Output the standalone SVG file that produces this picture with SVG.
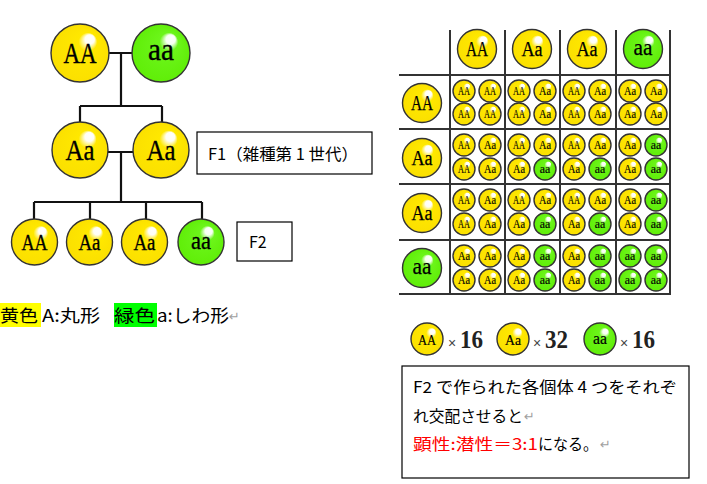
<svg xmlns="http://www.w3.org/2000/svg" width="707" height="484" viewBox="0 0 707 484">
<style>
.y{fill:url(#gy)}
.g{fill:url(#gg)}
circle{stroke:#333;stroke-width:1.4}
.lt{font-family:"Liberation Serif",serif;text-anchor:middle;fill:#000;stroke:#000;stroke-width:0.35}
.jp{font-family:"Noto Sans CJK JP","Liberation Sans",sans-serif;fill:#000}
.ret{font-family:"DejaVu Sans",sans-serif;fill:#a0a0a0;font-size:13px}
.ln{stroke:#111;stroke-width:2.2;fill:none}
.gl{stroke:#333;stroke-width:2;fill:none}
.box{fill:#fff;stroke:#000;stroke-width:1.2}
.cnt{font-family:"Liberation Serif",serif;font-weight:bold;fill:#222;font-size:25px}
.x{font-family:"Liberation Sans",sans-serif;fill:#444;font-size:14px}
</style>
<defs>
<radialGradient id="gy" cx="0.5" cy="0.5" r="0.5" fx="0.7" fy="0.22">
<stop offset="0" stop-color="#ffffff"/>
<stop offset="0.16" stop-color="#fffef5"/>
<stop offset="0.32" stop-color="#ffe800"/>
<stop offset="1" stop-color="#fbe000"/>
</radialGradient>
<radialGradient id="gg" cx="0.5" cy="0.5" r="0.5" fx="0.7" fy="0.22">
<stop offset="0" stop-color="#ffffff"/>
<stop offset="0.16" stop-color="#f6fff2"/>
<stop offset="0.32" stop-color="#6cf51a"/>
<stop offset="1" stop-color="#60ee08"/>
</radialGradient>
<g id="sAA"><circle r="11" class="y"/><text class="lt" y="4" font-size="11.5" textLength="12" lengthAdjust="spacingAndGlyphs" style="stroke-width:0.15">AA</text></g>
<g id="sAa"><circle r="11" class="y"/><text class="lt" y="4" font-size="11.5" textLength="12" lengthAdjust="spacingAndGlyphs" style="stroke-width:0.15">Aa</text></g>
<g id="saa"><circle r="11" class="g"/><text class="lt" y="3.5" font-size="12" textLength="10.5" lengthAdjust="spacingAndGlyphs" style="stroke-width:0.15">aa</text></g>
<g id="mAA"><circle r="19.5" class="y"/><text class="lt" y="6.5" font-size="20" textLength="22" lengthAdjust="spacingAndGlyphs" style="stroke-width:0.25">AA</text></g>
<g id="mAa"><circle r="19.5" class="y"/><text class="lt" y="6.5" font-size="20" textLength="21" lengthAdjust="spacingAndGlyphs" style="stroke-width:0.25">Aa</text></g>
<g id="maa"><circle r="19.5" class="g"/><text class="lt" y="5.5" font-size="23" textLength="19" lengthAdjust="spacingAndGlyphs" style="stroke-width:0.25">aa</text></g>
</defs>
<rect width="707" height="484" fill="#fff"/>

<g id="connectors">
<path class="ln" d="M108,53 H133 M121,53 V106 M80,106 H162 M80,106 V122 M162,106 V122"/>
<path class="ln" d="M108,152 H133 M121,152 V202 M34,202 H202 M34,202 V219 M90,202 V219 M146,202 V219 M202,202 V219"/>
</g>

<g id="p-AA"><circle cx="80" cy="53" r="29" class="y"/><text class="lt" x="80" y="62.5" font-size="30" textLength="33" lengthAdjust="spacingAndGlyphs">AA</text></g>
<g id="p-aa"><circle cx="161" cy="53" r="29" class="g"/><text class="lt" x="161" y="60" font-size="31" textLength="26" lengthAdjust="spacingAndGlyphs">aa</text></g>
<g id="f1-Aa-1"><circle cx="80" cy="150" r="28" class="y"/><text class="lt" x="80" y="159.5" font-size="30" textLength="29" lengthAdjust="spacingAndGlyphs">Aa</text></g>
<g id="f1-Aa-2"><circle cx="161" cy="150" r="28" class="y"/><text class="lt" x="161" y="159.5" font-size="30" textLength="29" lengthAdjust="spacingAndGlyphs">Aa</text></g>
<g id="f2-AA"><circle cx="34.5" cy="242" r="23" class="y"/><text class="lt" x="34.5" y="250" font-size="23" textLength="26" lengthAdjust="spacingAndGlyphs">AA</text></g>
<g id="f2-Aa-1"><circle cx="89.5" cy="242" r="23" class="y"/><text class="lt" x="89.5" y="250" font-size="23" textLength="22" lengthAdjust="spacingAndGlyphs">Aa</text></g>
<g id="f2-Aa-2"><circle cx="144.5" cy="242" r="23" class="y"/><text class="lt" x="144.5" y="250" font-size="23" textLength="22" lengthAdjust="spacingAndGlyphs">Aa</text></g>
<g id="f2-aa"><circle cx="201" cy="242" r="23" class="g"/><text class="lt" x="201" y="248.5" font-size="25" textLength="20" lengthAdjust="spacingAndGlyphs">aa</text></g>

<g id="label-f1"><rect class="box" x="197" y="132" width="175" height="42"/><text class="jp" x="208" y="160" font-size="16" textLength="150" lengthAdjust="spacingAndGlyphs">F1（雑種第 1 世代）</text></g>
<g id="label-f2"><rect class="box" x="237" y="222" width="55" height="39"/><text class="jp" x="249" y="248" font-size="16">F2</text></g>

<g id="legend">
<rect x="0" y="303" width="41" height="24" fill="#ffff00"/>
<rect x="114" y="303" width="43" height="24" fill="#00ff00"/>
<text class="jp" x="0" y="322" font-size="17.5" textLength="38" lengthAdjust="spacingAndGlyphs">黄色</text>
<text class="jp" x="42" y="322" font-size="17.5" textLength="58" lengthAdjust="spacingAndGlyphs">A:丸形</text>
<text class="jp" x="114" y="322" font-size="17.5" textLength="41" lengthAdjust="spacingAndGlyphs">緑色</text>
<text class="jp" x="157" y="322" font-size="17.5" textLength="72" lengthAdjust="spacingAndGlyphs">a:しわ形</text>
<text class="ret" x="229" y="321">↵</text>
</g>

<g id="grid-lines">
<path class="gl" d="M450,30 V294 M505,30 V294 M560,30 V294 M616,30 V294 M670,30 V294"/>
<path class="gl" d="M399,75 H670 M399,129 H670 M399,184 H670 M399,240 H670 M399,294 H671"/>
</g>

<g id="grid-headers">
<use href="#mAA" x="477" y="49"/>
<use href="#mAa" x="532" y="49"/>
<use href="#mAa" x="587" y="49"/>
<use href="#maa" x="643" y="49"/>
<use href="#mAA" x="422" y="103"/>
<use href="#mAa" x="422" y="158"/>
<use href="#mAa" x="422" y="213"/>
<use href="#maa" x="422" y="268"/>
</g>

<g id="grid-row1">
<use href="#sAA" x="464" y="91"/><use href="#sAA" x="490" y="91"/><use href="#sAA" x="464" y="114"/><use href="#sAA" x="490" y="114"/>
<use href="#sAA" x="519" y="91"/><use href="#sAa" x="545" y="91"/><use href="#sAA" x="519" y="114"/><use href="#sAa" x="545" y="114"/>
<use href="#sAA" x="574" y="91"/><use href="#sAa" x="600" y="91"/><use href="#sAA" x="574" y="114"/><use href="#sAa" x="600" y="114"/>
<use href="#sAa" x="630" y="91"/><use href="#sAa" x="656" y="91"/><use href="#sAa" x="630" y="114"/><use href="#sAa" x="656" y="114"/>
</g>
<g id="grid-row2">
<use href="#sAA" x="464" y="145"/><use href="#sAa" x="490" y="145"/><use href="#sAA" x="464" y="169"/><use href="#sAa" x="490" y="169"/>
<use href="#sAA" x="519" y="145"/><use href="#sAa" x="545" y="145"/><use href="#sAa" x="519" y="169"/><use href="#saa" x="545" y="169"/>
<use href="#sAA" x="574" y="145"/><use href="#sAa" x="600" y="145"/><use href="#sAa" x="574" y="169"/><use href="#saa" x="600" y="169"/>
<use href="#sAa" x="630" y="145"/><use href="#saa" x="656" y="145"/><use href="#sAa" x="630" y="169"/><use href="#saa" x="656" y="169"/>
</g>
<g id="grid-row3">
<use href="#sAA" x="464" y="200"/><use href="#sAa" x="490" y="200"/><use href="#sAA" x="464" y="224"/><use href="#sAa" x="490" y="224"/>
<use href="#sAA" x="519" y="200"/><use href="#sAa" x="545" y="200"/><use href="#sAa" x="519" y="224"/><use href="#saa" x="545" y="224"/>
<use href="#sAA" x="574" y="200"/><use href="#sAa" x="600" y="200"/><use href="#sAa" x="574" y="224"/><use href="#saa" x="600" y="224"/>
<use href="#sAa" x="630" y="200"/><use href="#saa" x="656" y="200"/><use href="#sAa" x="630" y="224"/><use href="#saa" x="656" y="224"/>
</g>
<g id="grid-row4">
<use href="#sAa" x="464" y="256"/><use href="#sAa" x="490" y="256"/><use href="#sAa" x="464" y="280"/><use href="#sAa" x="490" y="280"/>
<use href="#sAa" x="519" y="256"/><use href="#saa" x="545" y="256"/><use href="#sAa" x="519" y="280"/><use href="#saa" x="545" y="280"/>
<use href="#sAa" x="574" y="256"/><use href="#saa" x="600" y="256"/><use href="#sAa" x="574" y="280"/><use href="#saa" x="600" y="280"/>
<use href="#saa" x="630" y="256"/><use href="#saa" x="656" y="256"/><use href="#saa" x="630" y="280"/><use href="#saa" x="656" y="280"/>
</g>

<g id="counts">
<circle cx="427" cy="339" r="16" class="y"/><text class="lt" x="427" y="344.5" font-size="15" textLength="18" lengthAdjust="spacingAndGlyphs" style="stroke-width:0.2">AA</text>
<text class="x" x="448" y="348">×</text><text class="cnt" x="460" y="348" textLength="23" lengthAdjust="spacingAndGlyphs">16</text>
<circle cx="513" cy="339" r="16" class="y"/><text class="lt" x="513" y="344.5" font-size="15" textLength="16" lengthAdjust="spacingAndGlyphs" style="stroke-width:0.2">Aa</text>
<text class="x" x="533" y="348">×</text><text class="cnt" x="545" y="348" textLength="23" lengthAdjust="spacingAndGlyphs">32</text>
<circle cx="600" cy="339" r="16" class="g"/><text class="lt" x="600" y="343.5" font-size="16" textLength="14" lengthAdjust="spacingAndGlyphs" style="stroke-width:0.2">aa</text>
<text class="x" x="620" y="348">×</text><text class="cnt" x="632" y="348" textLength="23" lengthAdjust="spacingAndGlyphs">16</text>
</g>

<g id="note">
<rect class="box" x="402" y="366" width="287" height="112"/>
<text class="jp" x="413" y="393" font-size="15.5" textLength="264" lengthAdjust="spacingAndGlyphs">F2 で作られた各個体 4 つをそれぞ</text>
<text class="jp" x="413" y="422" font-size="15.5" textLength="110" lengthAdjust="spacingAndGlyphs">れ交配させると</text>
<text class="ret" x="524" y="421">↵</text>
<text class="jp" x="413" y="450" font-size="15.5" textLength="125" lengthAdjust="spacingAndGlyphs" style="fill:#ff0000">顕性:潜性＝3:1</text>
<text class="jp" x="538" y="450" font-size="15.5" textLength="60" lengthAdjust="spacingAndGlyphs">になる。</text>
<text class="ret" x="600" y="449">↵</text>
</g>
</svg>
